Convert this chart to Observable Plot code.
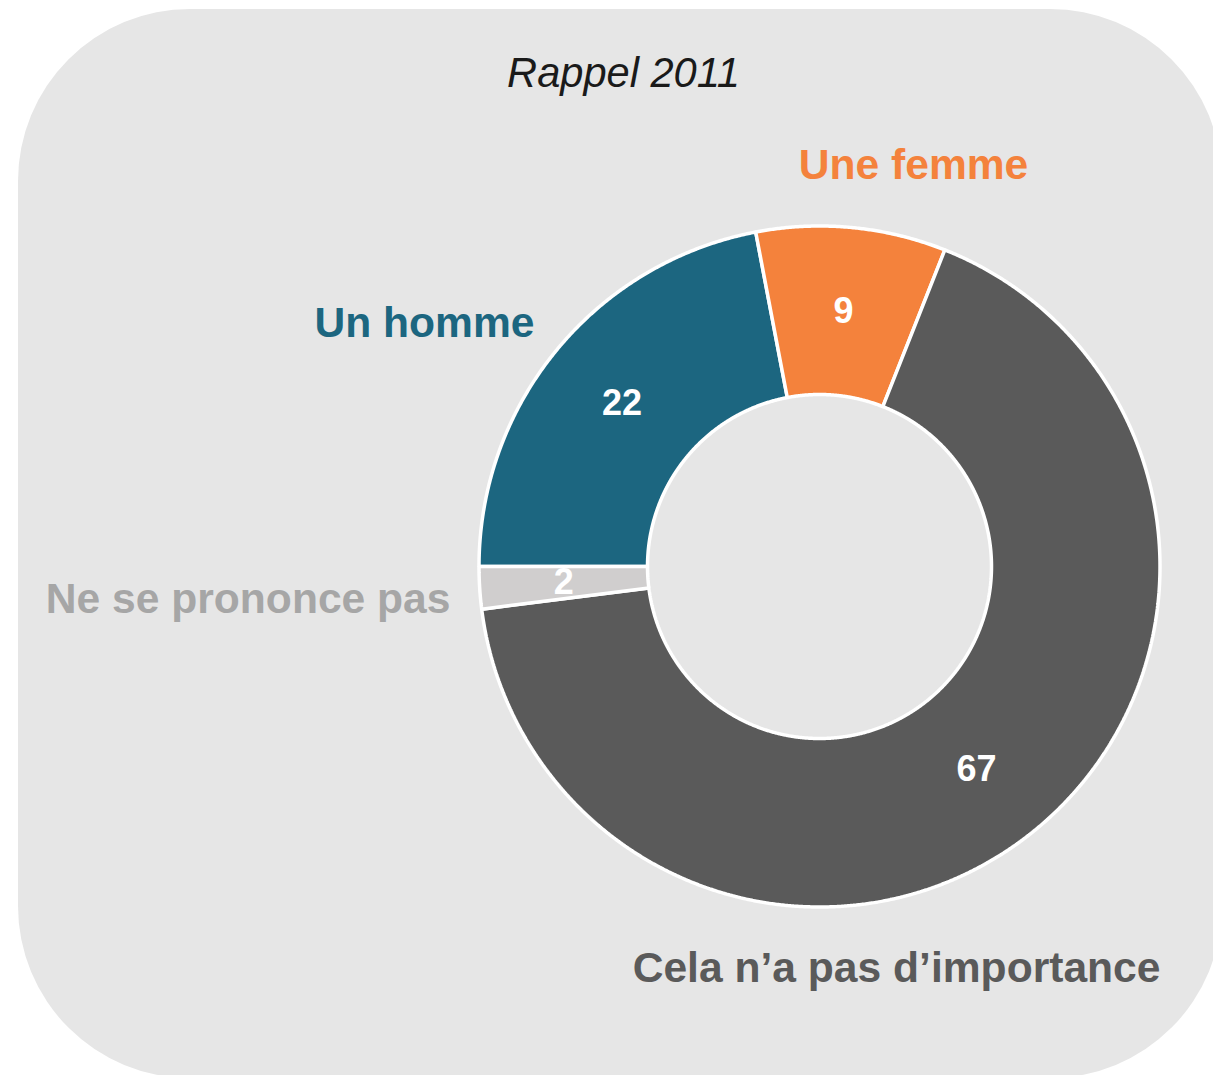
<!DOCTYPE html>
<html>
<head>
<meta charset="utf-8">
<script src="https://cdn.jsdelivr.net/npm/d3@7"></script>
<script src="https://cdn.jsdelivr.net/npm/@observablehq/plot@0.6"></script>
<style>
html, body { margin: 0; padding: 0; overflow: hidden; background: #ffffff; width: 1213px; height: 1075px; }
#panel { position: absolute; left: 18px; top: 9px; width: 1204px; height: 1069px; border-radius: 172px; background: #e6e6e6; }
#chart { position: absolute; left: 0; top: 0; }
</style>
</head>
<body>
<div id="panel"></div>
<div id="chart"></div>
<script>
// ---- data ----
const title = "Rappel 2011";
const categories = ["Un homme", "Une femme", "Cela n’a pas d’importance", "Ne se prononce pas"];
const values = [22, 9, 67, 2];
const sliceColors = ["#1c6680", "#f4823c", "#5a5a5a", "#d0cece"];
const labelColors = ["#1c6680", "#f4823c", "#5a5a5a", "#a6a6a6"];

// ---- layout ----
const W = 1213, H = 1075;
const CX = 819, CY = 566, R_OUT = 340.5, R_IN = 172;
const FONT = "Liberation Sans, Arial, Helvetica, sans-serif";
const labelLayout = [
  {x: 534, y: 336, anchor: "end"},
  {x: 913, y: 178, anchor: "middle"},
  {x: 1160, y: 981, anchor: "end"},
  {x: 450, y: 612, anchor: "end"}
];
const titleLayout = {x: 623, y: 86};

const rows = categories.map((c, i) => ({category: c, value: values[i], color: sliceColors[i], labelColor: labelColors[i], i}));

const pie = d3.pie().sort(null).value(d => d.value)
  .startAngle(-Math.PI / 2).endAngle(1.5 * Math.PI);
const arcs = pie(rows);

function ringPoints(a) {
  const pts = [];
  const n = Math.max(2, Math.ceil((a.endAngle - a.startAngle) / (Math.PI / 720)));
  for (let k = 0; k <= n; k++) {
    const t = a.startAngle + (a.endAngle - a.startAngle) * k / n;
    pts.push({x: CX + R_OUT * Math.sin(t), y: CY - R_OUT * Math.cos(t)});
  }
  for (let k = n; k >= 0; k--) {
    const t = a.startAngle + (a.endAngle - a.startAngle) * k / n;
    pts.push({x: CX + R_IN * Math.sin(t), y: CY - R_IN * Math.cos(t)});
  }
  return pts;
}

const rMid = (R_OUT + R_IN) / 2;
const midAngle = a => (a.startAngle + a.endAngle) / 2;

const marks = [];
arcs.forEach(a => {
  marks.push(Plot.line(ringPoints(a), {
    x: "x", y: "y", fill: a.data.color, stroke: "white", strokeWidth: 3.5,
    curve: "linear-closed", strokeLinejoin: "miter"
  }));
});
marks.push(Plot.text(arcs, {
  x: a => CX + rMid * Math.sin(midAngle(a)),
  y: a => CY - rMid * Math.cos(midAngle(a)),
  text: a => String(a.data.value),
  fill: "white", fontSize: 36, fontWeight: "bold", fontFamily: FONT,
  textAnchor: "middle", lineAnchor: "middle"
}));
rows.forEach(d => {
  const L = labelLayout[d.i];
  marks.push(Plot.text([d], {
    x: () => L.x, y: () => L.y, text: "category",
    fill: d.labelColor, fontSize: 42.6, fontWeight: "bold", fontFamily: FONT,
    textAnchor: L.anchor, lineAnchor: "bottom"
  }));
});
marks.push(Plot.text([title], {
  x: () => titleLayout.x, y: () => titleLayout.y, text: d => d,
  fill: "#1a1a1a", fontSize: 41.6, fontStyle: "italic", fontFamily: FONT,
  textAnchor: "middle", lineAnchor: "bottom"
}));

const chart = Plot.plot({
  width: W, height: H,
  margin: 0,
  x: {type: "linear", domain: [0, W], range: [0, W], axis: null},
  y: {type: "linear", domain: [0, H], range: [0, H], axis: null},
  style: {background: "transparent", fontFamily: FONT},
  marks
});
document.getElementById("chart").appendChild(chart);
</script>
</body>
</html>
